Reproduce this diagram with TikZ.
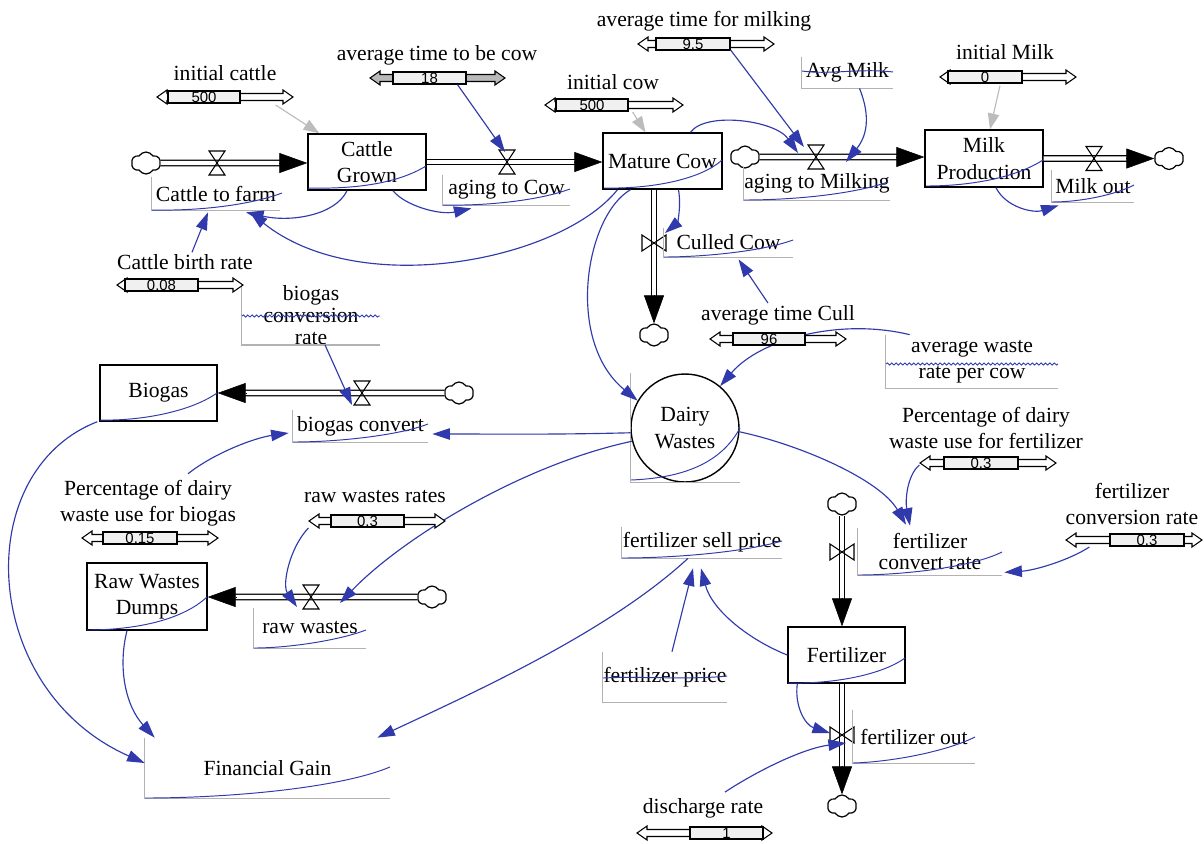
\documentclass[tikz,border=0pt]{standalone}
\usepackage{fontspec}
\setmainfont{Liberation Serif}
\setsansfont{Liberation Sans}
\usetikzlibrary{arrows.meta,calc,shapes.symbols,decorations.pathmorphing}

\definecolor{linkblue}{RGB}{48,58,172}
\definecolor{bracketgray}{RGB}{178,178,178}
\definecolor{initgray}{RGB}{188,188,188}
\newcommand\lblfont{\fontsize{12.3}{15}\selectfont}
\newcommand\valfont{\sffamily\fontsize{8.5}{8.5}\selectfont}

% slider: #1 name, #2 left tip x, #3 right tip x, #4 y, #5 box left, #6 box right, #7 value, #8 arrow fill
\newcommand\slider[8]{%
  \draw[line width=0.6pt, fill=#8] (#2,#4) -- ({#2+10},{#4-7}) -- ({#2+10},{#4-3.5})
    -- ({#3-10},{#4-3.5}) -- ({#3-10},{#4-7}) -- (#3,#4) -- ({#3-10},{#4+7})
    -- ({#3-10},{#4+3.5}) -- ({#2+10},{#4+3.5}) -- ({#2+10},{#4+7}) -- cycle;
  \node[valbox, minimum width={(#6-#5)*0.02cm}] (#1) at ({(#5+#6)/2},#4) {#7};
}
% material pipe with a solid head at its end
\newcommand\flowpipe[2]{%
  \draw[pipe, shorten >=0.54cm] (#1) -- (#2);
  \draw[flowhead] ($(#2)!0.56cm!(#1)$) -- (#2);
}

\begin{document}
\begin{tikzpicture}[x=0.02cm, y=-0.02cm,
  stock/.style={draw, line width=0.8pt, align=center, font=\lblfont, inner sep=1pt, fill=white},
  aux/.style={align=center, font=\lblfont, inner sep=0pt},
  const/.style={align=center, font=\lblfont, inner sep=1pt},
  bracket/.style={draw=bracketgray, line width=0.7pt},
  link/.style={draw=linkblue, line width=0.65pt, -{Triangle[length=10pt,width=6.5pt]}},
  initlink/.style={draw=initgray, line width=0.65pt, -{Triangle[length=9pt,width=6.5pt]}},
  scrib/.style={draw=linkblue, line width=0.55pt},
  wavy/.style={draw=linkblue, line width=0.5pt, decorate, decoration={snake, amplitude=0.6pt, segment length=2.5pt}},
  pipe/.style={draw=black, line width=0.75pt, double=white, double distance=2.3pt},
  flowhead/.style={draw=black, fill=black, line width=0.3pt, -{Triangle[length=0.56cm,width=0.4cm]}},
  cloudn/.style={cloud, draw, cloud puffs=6, cloud puff arc=120, aspect=1.25, minimum width=0.58cm,
    minimum height=0.44cm, inner sep=0pt, fill=white, line width=0.7pt},
  valbox/.style={draw, fill=gray!12, line width=0.7pt, minimum height=0.24cm, inner sep=0pt, font=\valfont},
  valveh/.pic={\draw[line width=0.6pt] (-8,-12) -- (8,-12) -- (0,0) -- cycle (-8,12) -- (8,12) -- (0,0) -- cycle;},
  valvev/.pic={\draw[line width=0.6pt] (-12,-8) -- (-12,8) -- (0,0) -- cycle (12,-8) -- (12,8) -- (0,0) -- cycle;}
]
\fill[white] (0,0) rectangle (1204,843);
\useasboundingbox (0,0) rectangle (1204,843);

% ---- stocks ----
\node[stock, minimum width=2.36cm, minimum height=1.12cm] (CG) at (367,162) {Cattle\\Grown};
\node[stock, minimum width=2.38cm, minimum height=1.12cm] (MC) at (662.5,161) {Mature Cow};
\node[stock, minimum width=2.36cm, minimum height=1.14cm] (MP) at (984,158.5) {Milk\\Production};
\node[stock, minimum width=2.34cm, minimum height=1.12cm] (BG) at (158.5,393) {Biogas};
\node[stock, minimum width=2.4cm, minimum height=1.34cm] (RW) at (147,596.5) {Raw Wastes\\Dumps};
\node[stock, minimum width=2.34cm, minimum height=1.12cm] (FE) at (846.5,655) {Fertilizer};
\node[stock, circle, minimum size=2.16cm, inner sep=0pt] (DW) at (685,428) {Dairy\\Wastes};
\draw[bracket] (DW.west |- DW.north) -- (DW.west |- DW.south) -- (DW.east |- DW.south);

% ---- sources and sinks ----
\node[cloudn] (cl1) at (146,163) {};
\node[cloudn] (cl2) at (745,157) {};
\node[cloudn] (cl3) at (1169,158.5) {};
\node[cloudn] (cl4) at (654,335) {};
\node[cloudn] (cl5) at (459,393) {};
\node[cloudn] (cl6) at (432,597) {};
\node[cloudn] (cl7) at (842,504) {};
\node[cloudn] (cl8) at (842,806) {};

% ---- flows ----
\flowpipe{cl1.east}{cl1 -| CG.west}
\flowpipe{CG.east}{CG.east -| MC.west}
\flowpipe{cl2.east}{cl2 -| MP.west}
\flowpipe{MP.east}{cl3.west}
\flowpipe{cl4 |- MC.south}{cl4.north}
\flowpipe{cl5.west}{cl5 -| BG.east}
\flowpipe{cl6.west}{cl6 -| RW.east}
\flowpipe{cl7.south}{cl7 |- FE.north}
\flowpipe{cl8 |- FE.south}{cl8.north}

\coordinate (v1) at (217,163);
\coordinate (v2) at (507,162);
\coordinate (v3) at (816,157);
\coordinate (v4) at (1094,158.5);
\coordinate (v5) at (654,243);
\coordinate (v6) at (362,393);
\coordinate (v7) at (311,597);
\coordinate (v8) at (842,552);
\coordinate (v9) at (842,735);
\foreach \v in {v1,v2,v3,v4,v6,v7} \pic at (\v) {valveh};
\foreach \v in {v5,v8,v9} \pic at (\v) {valvev};

% ---- auxiliaries ----
\node[aux, minimum width=2.56cm, minimum height=0.66cm] (ctf) at (216,193.5) {Cattle to farm};
\node[aux, minimum width=2.54cm, minimum height=0.6cm] (atc) at (506.5,190) {aging to Cow};
\node[aux, minimum width=2.92cm, minimum height=0.66cm] (atm) at (817,183.5) {aging to Milking};
\node[aux, minimum width=1.64cm, minimum height=0.64cm] (mo) at (1093,186) {Milk out};
\node[aux, minimum width=2.58cm, minimum height=0.58cm] (cc) at (728.5,242.5) {Culled Cow};
\node[aux, minimum width=1.82cm, minimum height=0.62cm] (am) at (847.5,72.5) {Avg Milk};
\node[aux, minimum width=2.76cm, minimum height=1.0cm, font=\fontsize{12.3}{12.5}\selectfont] (bcr) at (311,315) {biogas\\conversion\\rate};
\node[aux, minimum width=3.44cm, minimum height=1.06cm] (awr) at (972,361.5) {average waste\\rate per cow};
\node[aux, minimum width=2.7cm, minimum height=0.64cm] (bc) at (360.5,426) {biogas convert};
\node[aux, minimum width=2.24cm, minimum height=0.8cm] (rwa) at (310,628) {raw wastes};
\node[aux, minimum width=4.9cm, minimum height=1.2cm] (fg) at (267.5,768) {Financial Gain};
\node[aux, minimum width=3.2cm, minimum height=0.62cm] (fsp) at (702,542.5) {fertilizer sell price};
\node[aux, minimum width=2.88cm, minimum height=0.94cm, font=\fontsize{12.3}{12}\selectfont] (fcr) at (930,551.5) {fertilizer\\convert rate};
\node[aux, minimum width=2.48cm, minimum height=1.0cm] (fp) at (665,677) {fertilizer price};
\node[aux, minimum width=2.44cm, minimum height=1.06cm] (fo) at (914,736.5) {fertilizer out};
\foreach \n in {ctf,atc,atm,mo,cc,am,bcr,awr,bc,rwa,fg,fsp,fcr,fp,fo}
  \draw[bracket] (\n.north west) |- (\n.south east);

% ---- constants ----
\node[const] (ic) at (225,73) {initial cattle};
\node[const] (atbc) at (437,55) {average time to be cow};
\node[const] (icw) at (613,82) {initial cow};
\node[const] (atfm) at (704,21) {average time for milking};
\node[const] (im) at (1005,52) {initial Milk};
\node[const] (cbr) at (185,262) {Cattle birth rate};
\node[const] (atcu) at (778,315) {average time Cull};
\node[const] (pf) at (986,428) {Percentage of dairy\\waste use for fertilizer};
\node[const] (fcv) at (1132,504) {fertilizer\\conversion rate};
\node[const] (pb) at (148,503) {Percentage of dairy\\waste use for biogas};
\node[const] (rwr) at (375,497) {raw wastes rates};
\node[const] (dr) at (703,808) {discharge rate};

% ---- causal links between variables ----
\draw[link] ([shift={(12,0)}]am.south) .. controls +(12,30) and +(20,-25) .. ([shift={(30,5)}]v3);
\draw[link] ([shift={(12,0)}]MP.south) .. controls +(10,20) and +(-25,8) .. ([shift={(7,3)}]mo.south west);
\draw[link] ([shift={(28,0)}]MC.north) .. controls +(15,-21) and +(-23,-33) .. ([shift={(-18,-4)}]v3);
\draw[link] ([shift={(16,0)}]MC.south) .. controls +(3,18) and +(12,-10) .. ([shift={(11,-10)}]v5);
\draw[link] ([shift={(-10,0)}]atcu.north) -- ([shift={(10,2)}]cc.south);
\draw[link] ([shift={(24,0)}]awr.north west) .. controls +(-70,-17) and +(40,-47) .. (DW.50);
\draw[link] ([shift={(-32,0)}]MC.south) .. controls +(-45,26) and +(-73,-60) .. (DW.150);
\draw[link] ([shift={(-45,0)}]MC.south) .. controls +(-57,71) and +(110,88) .. ([shift={(34,2)}]ctf.south);
\draw[link] ([shift={(-20,0)}]CG.south) .. controls +(-12,25) and +(44,10) .. ([shift={(30,2)}]ctf.south);
\draw[link] ([shift={(7,0)}]cbr.north) -- ([shift={(-8,2)}]ctf.south);
\draw[link] ([shift={(26,0)}]CG.south) .. controls +(12,15) and +(-32,7) .. ([shift={(-35,3)}]atc.south);
\draw[link] ([shift={(14,0)}]bcr.south) -- ([shift={(-10,12)}]v6);
\draw[link] (DW.185) .. controls +(-80,2) and +(70,0) .. ([shift={(4,8)}]bc.east);
\draw[link] ([shift={(40,-4)}]pb.north) .. controls +(25,-20) and +(-35,5) .. ([shift={(-4,7)}]bc.west);
\draw[link] ([shift={(-2,0)}]BG.south west) .. controls +(-128,50) and +(-165,-73) .. ([shift={(0,-5)}]fg.west);
\draw[link] ([shift={(-20,0)}]RW.south) .. controls +(-9,35) and +(-30,-33) .. ([shift={(10,0)}]fg.north west);
\draw[link] ([shift={(-14,0)}]fsp.south) .. controls +(-78,72) and +(103,-48) .. ([shift={(-13,0)}]fg.north east);
\draw[link] ([shift={(7,0)}]fp.north) -- ([shift={(-9,10)}]fsp.south);
\draw[link] (FE.west) .. controls +(-38,-15) and +(11,42) .. ([shift={(-1,10)}]fsp.south);
\draw[link] (DW.194) .. controls +(-112,24) and +(60,-63) .. ([shift={(29,6)}]v7);
\draw[link] (DW.-4) .. controls +(61,13) and +(-26,-45) .. ([shift={(-24,-3)}]fcr.north);
\draw[link] ([shift={(10,0)}]FE.south west) .. controls +(-3,22) and +(-25,-8) .. ([shift={(-12,-2)}]v9);
\draw[link] ([shift={(22,-4)}]dr.north) .. controls +(35,-23) and +(-41,5) .. ([shift={(4,8)}]v9);

% ---- sliders ----
\slider{s_ic}{157}{293}{97}{168}{240}{500}{white}
\slider{s_atbc}{370}{505}{78}{393}{466}{18}{gray!55}
\slider{s_icw}{545}{683}{105}{556}{628}{500}{white}
\slider{s_atfm}{638}{774}{44}{656}{730}{9.5}{white}
\slider{s_im}{940}{1076}{77}{948}{1022}{0}{white}
\slider{s_cbr}{117}{243}{285}{125}{198}{0.08}{white}
\slider{s_atcu}{710}{846}{339}{733}{805}{96}{white}
\slider{s_pf}{920}{1056}{463}{944}{1018}{0.3}{white}
\slider{s_fcv}{1066}{1202}{540}{1110}{1184}{0.3}{white}
\slider{s_pb}{82}{218}{538}{103}{177}{0.15}{white}
\slider{s_rwr}{309}{445}{521}{331}{404}{0.3}{white}
\slider{s_dr}{637}{772}{833}{690}{763}{1}{white}

% ---- links leaving sliders ----
\draw[initlink] ([shift={(35,8)}]s_ic.east) -- ([shift={(12,0)}]CG.north west);
\draw[initlink] ([shift={(4,7)}]s_icw.east) -- ([shift={(-17,0)}]MC.north);
\draw[initlink] ([shift={(15,2)}]s_im.south) -- ([shift={(6,0)}]MP.north);
\draw[link] ([shift={(28,0)}]s_atbc.south) -- ([shift={(-2,-10)}]v2);
\draw[link] ([shift={(0,6)}]s_atfm.east) -- ([shift={(-12,-10)}]v3);
\draw[link] ([shift={(-22,7)}]s_rwr.west) .. controls +(-19,20) and +(-15,-22) .. ([shift={(-14,10)}]v7);
\draw[link] ([shift={(-24,2)}]s_pf.west) .. controls +(-12,10) and +(-5,-26) .. ([shift={(-20,-2)}]fcr.north);
\draw[link] ([shift={(-20,7)}]s_fcv.west) .. controls +(-20,13) and +(31,-2) .. ([shift={(2,-3)}]fcr.south east);

% ---- pen strokes across names ----
\draw[scrib] (308,188) .. controls (350,189) and (395,185) .. (426,166);
\draw[scrib] (604,188) .. controls (650,189) and (700,180) .. (722,160);
\draw[scrib] (926,186) .. controls (970,186) and (1015,178) .. (1043,160);
\draw[scrib] (100,420) .. controls (140,421) and (190,412) .. (217,393);
\draw[scrib] (87,630) .. controls (130,630) and (180,622) .. (207,597);
\draw[scrib] (788,683) .. controls (830,684) and (880,676) .. (905,658);
\draw[scrib] (631,480) .. controls (680,478) and (720,465) .. (740,428);
\draw[scrib] (152,210) .. controls (200,211) and (250,205) .. (282,193);
\draw[scrib] (443,205) .. controls (490,206) and (540,200) .. (570,189);
\draw[scrib] (744,200) .. controls (790,200) and (850,195) .. (888,182);
\draw[scrib] (1052,202) .. controls (1080,202) and (1115,195) .. (1134,185);
\draw[scrib] (664,257) .. controls (700,257) and (760,252) .. (793,240);
\draw[scrib] (293,442) .. controls (340,442) and (400,435) .. (428,424);
\draw[scrib] (254,648) .. controls (290,648) and (340,640) .. (366,630);
\draw[scrib] (145,798) .. controls (230,798) and (340,788) .. (390,767);
\draw[scrib] (622,558) .. controls (670,558) and (740,553) .. (782,541);
\draw[scrib] (858,575) .. controls (900,575) and (970,568) .. (1002,552);
\draw[scrib] (853,763) .. controls (890,762) and (945,752) .. (975,737);
\draw[scrib] (802,71) .. controls (830,75) and (860,68) .. (893,72);
\draw[scrib] (603,678) .. controls (640,676) and (690,680) .. (727,676);
\draw[wavy] (242,316) -- (380,316);
\draw[wavy] (886,364) -- (1058,364);
\end{tikzpicture}
\end{document}
